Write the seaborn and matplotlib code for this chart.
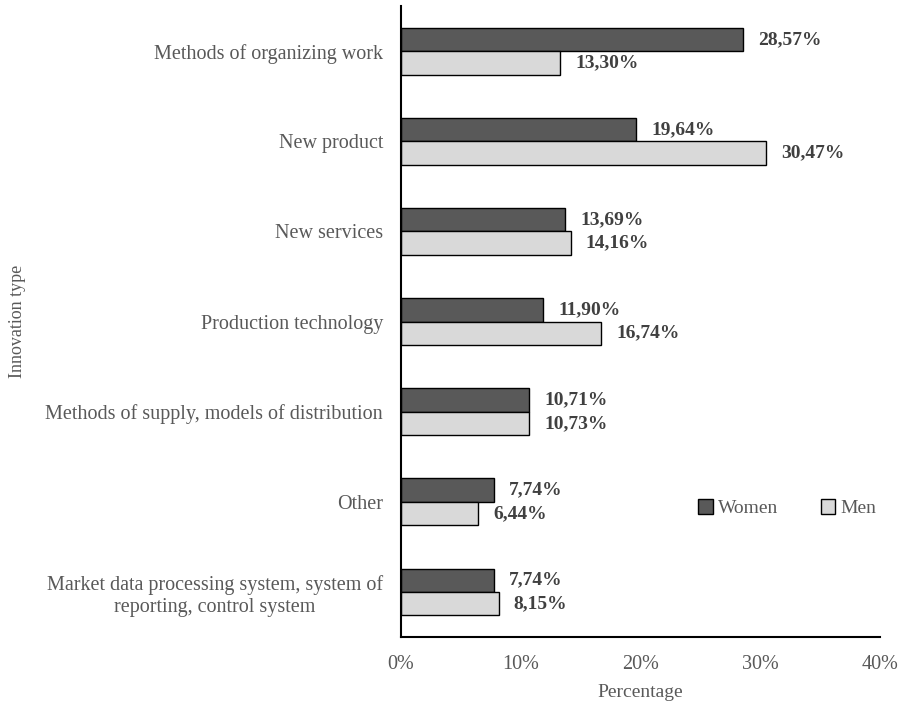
import matplotlib.pyplot as plt
import pandas as pd
import seaborn as sns
from matplotlib.patches import Patch

categories = [
    "Methods of organizing work",
    "New product",
    "New services",
    "Production technology",
    "Methods of supply, models of distribution",
    "Other",
    "Market data processing system, system of\nreporting, control system",
]
women = [28.57, 19.64, 13.69, 11.90, 10.71, 7.74, 7.74]
men = [13.30, 30.47, 14.16, 16.74, 10.73, 6.44, 8.15]
x_ticks = [0, 10, 20, 30, 40]

# long format for seaborn
df = pd.DataFrame({
    "Innovation type": categories * 2,
    "Percentage": women + men,
    "Gender": ["Women"] * len(women) + ["Men"] * len(men),
})

sns.set_theme(style="white")
plt.rcParams["font.family"] = ["Liberation Serif", "DejaVu Serif"]

grey_text = "#595959"
colors = {"Women": "#595959", "Men": "#d9d9d9"}

fig = plt.figure(figsize=(9.06, 7.06), dpi=100)
ax = fig.add_axes([0.4426, 0.0977, 0.5287, 0.8938])

sns.barplot(data=df, y="Innovation type", x="Percentage", hue="Gender",
            palette=colors, orient="h", width=0.52, ax=ax,
            edgecolor="black", linewidth=1.0, legend=False)

ax.set_xlim(0, 40)
ax.set_ylim(len(categories) - 0.5, -0.5)
ax.set_xticks(x_ticks)
ax.set_xticklabels([f"{t}%" for t in x_ticks])
ax.tick_params(axis="x", colors=grey_text, labelsize=14.5, length=0, pad=13)
ax.tick_params(axis="y", colors=grey_text, labelsize=14.5, length=0, pad=13)

for lab in ax.get_yticklabels():
    lab.set_horizontalalignment("right")
    lab.set_multialignment("center")

sns.despine(ax=ax)
for side in ["left", "bottom"]:
    ax.spines[side].set_color("black")
    ax.spines[side].set_linewidth(1.5)

ax.set_xlabel("Percentage", color=grey_text, fontsize=14)
ax.xaxis.set_label_coords(0.5, -0.075)
ax.set_ylabel("Innovation type", color=grey_text, fontsize=13)
ax.yaxis.set_label_coords(-0.782, 0.5)

# value labels with decimal comma
for cont, vals in zip(ax.containers, [women, men]):
    ax.bar_label(cont, labels=[f"{v:.2f}%".replace(".", ",") for v in vals],
                 padding=11, fontsize=14, fontweight="bold", color="#404040")

handles = [Patch(facecolor=colors[g], edgecolor="black", label=g) for g in ["Women", "Men"]]
ax.legend(handles=handles, loc="center", bbox_to_anchor=(0.806, 0.204), ncol=2,
          frameon=False, fontsize=14, handlelength=0.75, handleheight=0.75,
          handletextpad=0.25, columnspacing=2.2, labelcolor=grey_text)

fig.savefig("out.png", dpi=100)
plt.close(fig)
